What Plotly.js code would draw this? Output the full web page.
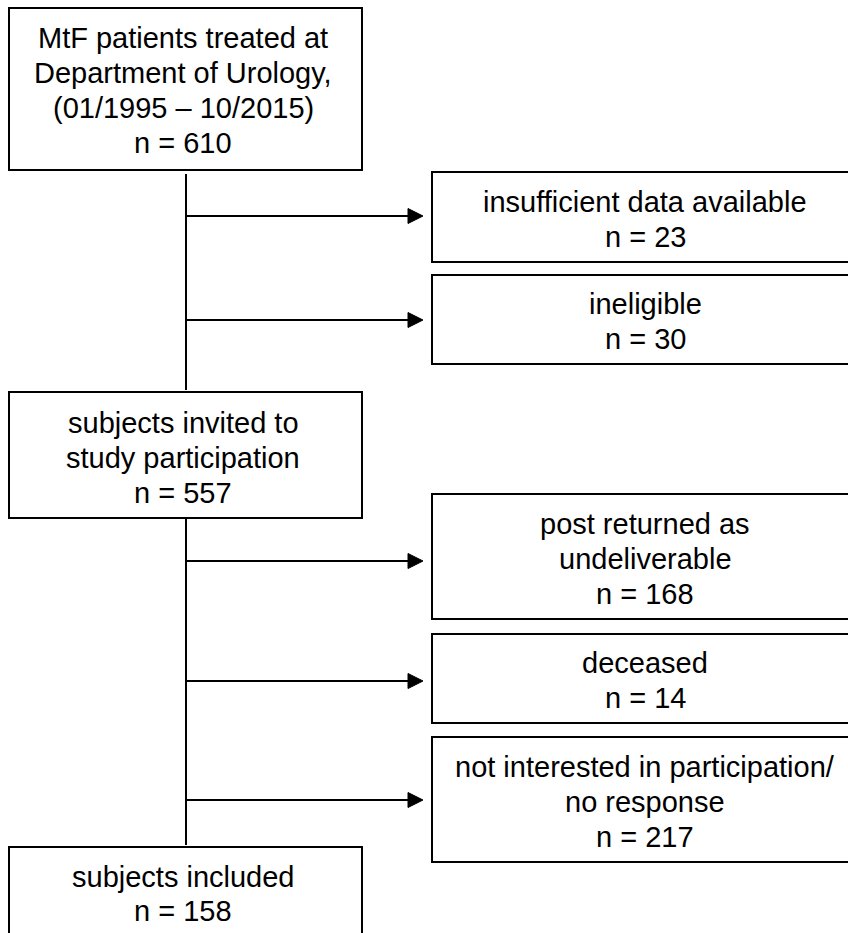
<!DOCTYPE html>
<html>
<head>
<meta charset="utf-8">
<script src="https://cdn.plot.ly/plotly-3.0.1.min.js"></script>
<style>html,body{margin:0;padding:0;background:#fff;}#chart{width:848px;height:933px;}</style>
</head>
<body>
<div id="chart"></div>
<script>
// ---- data ----
const mainLabels = [
  ["MtF patients treated at", "Department of Urology,", "(01/1995 \u2013 10/2015)"],
  ["subjects invited to", "study participation"],
  ["subjects included"]
];
const mainCounts = [610, 557, 158];
const exclLabels = [
  ["insufficient data available"],
  ["ineligible"],
  ["post returned as", "undeliverable"],
  ["deceased"],
  ["not interested in participation/", "no response"]
];
const exclCounts = [23, 30, 168, 14, 217];

// ---- layout geometry (pixel space) ----
const W = 848, H = 933;
const mainX = [9, 362];
const mainY = [[8, 170], [392, 518], [847, 962]];
const mainTextCenter = [90, 458, 894];
const exclX = [432, 860];
const exclY = [[172, 262], [275, 364], [494, 619], [634, 723], [737, 862]];
const arrowY = [216, 320, 561, 681, 800];
const stemX = 186;
const lineGap = 35;
const fontSize = 29;
const font = {family: "Liberation Sans, Arial, sans-serif", size: fontSize, color: "#000"};
const stroke = {color: "#000", width: 2};

const shapes = [];
const annotations = [];

function addText(lines, cx, cy, gap) {
  const n = lines.length;
  lines.forEach((t, i) => {
    annotations.push({
      x: cx, y: cy + (i - (n - 1) / 2) * gap, xref: "x", yref: "y",
      text: t, showarrow: false, font: font,
      xanchor: "center", yanchor: "middle"
    });
  });
}

mainLabels.forEach((lab, i) => {
  shapes.push({type: "rect", xref: "x", yref: "y", x0: mainX[0], x1: mainX[1],
    y0: mainY[i][0], y1: mainY[i][1], line: stroke, fillcolor: "rgba(0,0,0,0)"});
  addText(lab.concat(["n = " + mainCounts[i]]), 183, mainTextCenter[i], i === 2 ? 34 : lineGap);
});

exclLabels.forEach((lab, i) => {
  shapes.push({type: "rect", xref: "x", yref: "y", x0: exclX[0], x1: exclX[1],
    y0: exclY[i][0], y1: exclY[i][1], line: stroke, fillcolor: "rgba(0,0,0,0)"});
  const cy = (exclY[i][0] + exclY[i][1]) / 2 + 2;
  addText(lab.concat(["n = " + exclCounts[i]]), 645, cy, lineGap);
  // arrow shaft
  const tip = 423, headLen = 15, headHalf = 7.5, y = arrowY[i];
  shapes.push({type: "line", xref: "x", yref: "y", x0: stemX + 1, x1: tip - headLen + 1,
    y0: y, y1: y, line: stroke});
  shapes.push({type: "path", xref: "x", yref: "y",
    path: `M ${tip - headLen} ${y - headHalf} L ${tip} ${y} L ${tip - headLen} ${y + headHalf} Z`,
    fillcolor: "#000", line: {color: "#000", width: 1}});
});

// vertical stems
shapes.push({type: "line", xref: "x", yref: "y", x0: stemX, x1: stemX, y0: 174, y1: 390, line: stroke});
shapes.push({type: "line", xref: "x", yref: "y", x0: stemX, x1: stemX, y0: 519, y1: 845, line: stroke});

const layout = {
  width: W, height: H,
  margin: {l: 0, r: 0, t: 0, b: 0, pad: 0},
  paper_bgcolor: "#fff", plot_bgcolor: "#fff",
  showlegend: false,
  xaxis: {range: [0, W], visible: false, fixedrange: true},
  yaxis: {range: [H, 0], visible: false, fixedrange: true},
  shapes: shapes,
  annotations: annotations
};

Plotly.newPlot("chart", [], layout, {staticPlot: true, displayModeBar: false});
</script>
</body>
</html>
